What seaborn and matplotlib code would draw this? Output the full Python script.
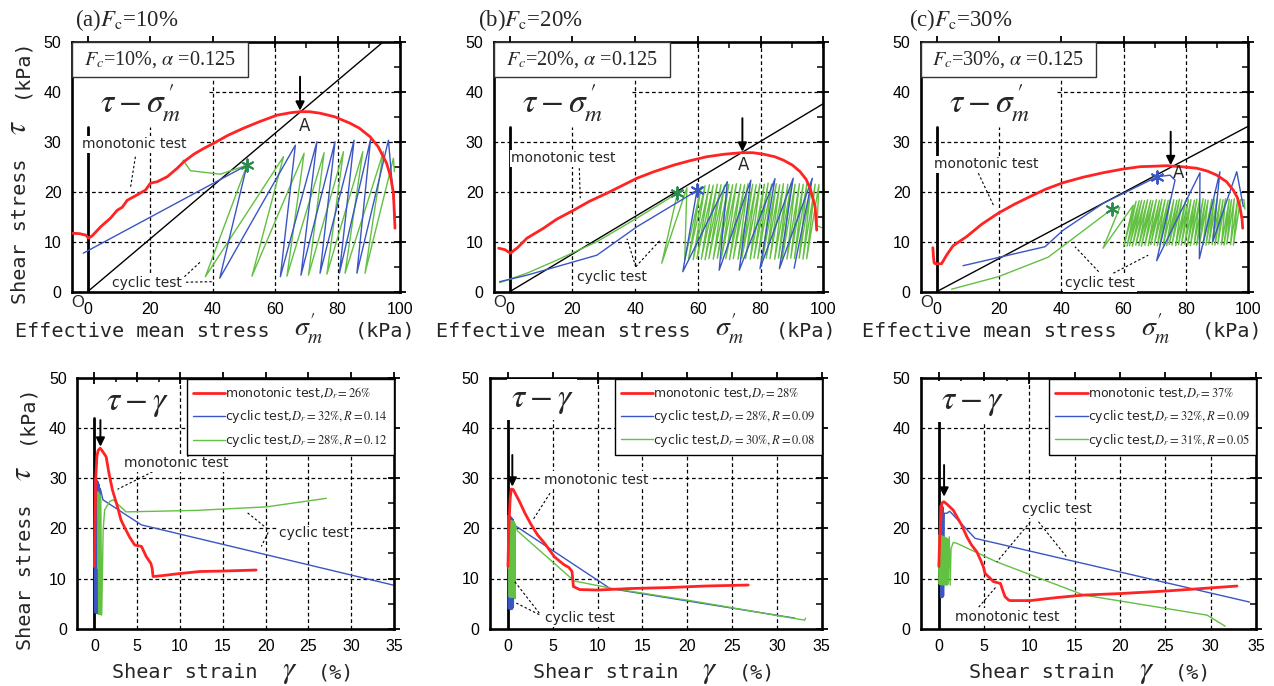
import numpy as np
import matplotlib
matplotlib.use("Agg")
import matplotlib.pyplot as plt
import matplotlib.transforms as mtransforms
from matplotlib.patches import Rectangle
import seaborn as sns

sns.set_theme(style="white")
plt.rcParams["font.family"] = ["DejaVu Sans"]
plt.rcParams["mathtext.fontset"] = "stix"

RED = "#ff2323"
BLUE = "#3a55c4"
GREEN = "#62c042"
STAR_GREEN = "#2c8a50"

# ---------------- stress paths (tau vs sigma_m') ----------------
fc_values = ["10", "20", "30"]
panel_tags = ["a", "b", "c"]
csl_slope = [0.528, 0.376, 0.331]

# Fc = 10 %
mono_a_p = [-4.8, -2.5, -0.5, 0.3, 1.5, 4.2, 7.3, 9.5, 11.1, 12.7, 14.8, 16.5, 18.5, 20.1, 22.3,
            25.5, 28.7, 30.8, 34.0, 37.0, 40.4, 45.0, 49.9, 55.0, 60.6, 65.0, 68.0, 71.0, 74.4,
            79.0, 84.0, 87.0, 90.4, 93.0, 95.7, 97.0, 97.9, 98.4]
mono_a_t = [11.7, 11.6, 11.3, 10.7, 11.2, 13.0, 14.7, 16.3, 16.9, 18.3, 19.0, 19.6, 20.3, 21.7, 22.0,
            23.0, 24.7, 26.0, 27.5, 28.6, 29.7, 31.3, 32.7, 34.0, 35.3, 35.8, 36.0, 36.0, 35.7,
            35.0, 33.7, 32.7, 31.0, 29.0, 25.7, 23.0, 19.7, 12.7]
cyc1_a_p = [-1.4, 51.0, 42.3, 66.5, 61.7, 73.4, 68.3, 79.2, 74.4, 85.3, 80.6, 90.6, 86.2, 96.3, 98.4]
cyc1_a_t = [7.7, 25.3, 2.7, 29.3, 3.0, 30.0, 3.3, 30.0, 3.7, 30.3, 3.7, 30.5, 3.7, 30.3, 15.0]
cyc2_a_p = [30.6, 32.9, 42.5, 51.0, 37.7, 62.7, 52.6, 69.3, 63.8, 75.7, 70.7, 81.9, 76.6, 88.1,
            82.4, 94.7, 88.8, 97.9, 98.2]
cyc2_a_t = [26.3, 24.2, 23.5, 25.3, 3.0, 27.0, 3.1, 27.7, 3.1, 27.8, 3.3, 28.0, 3.5, 28.0,
            3.7, 28.0, 3.7, 26.7, 24.0]

# Fc = 20 %
mono_b_p = [-3.5, -1.5, 0.2, 2.5, 5.5, 10.8, 15.0, 20.4, 25.5, 31.0, 35.8, 40.6, 46.0, 52.2, 57.5,
            62.9, 68.5, 74.0, 77.5, 80.9, 84.5, 87.3, 90.2, 92.6, 94.5, 95.8, 97.4, 97.9]
mono_b_t = [8.7, 8.4, 7.7, 8.8, 10.7, 12.7, 14.5, 16.3, 18.1, 19.7, 21.2, 22.7, 24.0, 25.3, 26.2,
            27.0, 27.5, 27.8, 27.8, 27.5, 27.0, 26.3, 25.3, 24.0, 22.5, 20.7, 17.0, 12.3]
cyc1_b_p = [-3.2, 5.5, 27.8, 40.6, 59.7, 55.2, 69.4, 66.8, 76.9, 73.2, 84.6, 79.8, 90.4, 86.0,
            96.5, 90.7]
cyc1_b_t = [2.0, 3.3, 7.3, 13.0, 20.2, 4.0, 22.0, 4.3, 22.3, 4.3, 22.6, 4.6, 22.7, 4.6, 22.7, 4.7]
cyc2_b_head_p = [-3.2, 5.5, 15.0, 27.8, 40.0, 53.5, 48.5, 56.5]
cyc2_b_head_t = [1.8, 3.7, 6.3, 10.0, 14.5, 19.7, 5.7, 20.8]
cyc2_b_lo_p = [55.8, 57.0, 58.5, 59.7, 61.1, 62.3, 63.5, 64.9, 66.2, 67.4, 68.9, 70.1, 71.3, 72.8,
               74.0, 75.2, 76.7, 77.9, 79.1, 80.6, 81.8, 83.0, 84.5, 85.7, 86.9, 88.4, 89.6, 90.8,
               92.3, 93.5, 94.7]
cyc2_b_lo_t = [6.3, 6.5, 6.4, 6.6, 6.5, 6.4, 6.6, 6.5, 6.7, 6.5, 6.6, 6.4, 6.6, 6.5, 6.7, 6.6,
               6.5, 6.7, 6.6, 6.5, 6.7, 6.6, 6.5, 6.7, 6.6, 6.5, 6.7, 6.6, 6.7, 6.5, 6.6]
cyc2_b_hi_p = [61.1, 62.3, 63.7, 64.9, 66.2, 67.4, 68.5, 69.9, 71.1, 72.3, 73.7, 74.9, 76.0, 77.5,
               78.6, 79.8, 81.2, 82.4, 83.5, 85.0, 86.1, 87.3, 88.7, 89.8, 91.0, 92.4, 93.6, 94.8,
               96.2, 97.4, 98.6]
cyc2_b_hi_t = [21.0, 21.2, 21.4, 21.3, 21.5, 21.4, 21.3, 21.5, 21.4, 21.6, 21.5, 21.4, 21.6, 21.5,
               21.4, 21.6, 21.5, 21.7, 21.5, 21.6, 21.4, 21.6, 21.5, 21.7, 21.5, 21.6, 21.5, 21.7,
               21.6, 21.5, 21.4]
cyc2_b_tail_p = [98.0, 99.5]
cyc2_b_tail_t = [13.2, 12.8]

# Fc = 30 %
mono_c_p = [-1.2, -1.0, -0.8, -0.5, 1.6, 3.2, 5.3, 9.6, 14.5, 19.8, 25.0, 29.9, 35.0, 40.6, 47.0,
            53.5, 59.5, 65.2, 70.0, 73.8, 78.5, 83.4, 87.0, 89.9, 93.0, 95.2, 96.5, 97.3, 98.0, 98.2]
mono_c_t = [8.8, 7.0, 5.8, 5.6, 5.6, 7.3, 9.2, 11.0, 13.5, 15.7, 17.5, 19.0, 20.5, 21.8, 22.9,
            23.8, 24.5, 25.0, 25.1, 25.2, 25.0, 24.7, 24.1, 23.3, 22.0, 20.3, 18.8, 17.0, 14.5, 12.7]
cyc1_c_p = [8.5, 34.8, 40.6, 53.5, 70.8, 74.9, 76.5, 70.6, 84.5, 84.3, 90.9, 88.6, 96.3, 98.4]
cyc1_c_t = [5.2, 9.0, 12.3, 17.7, 23.0, 23.3, 22.3, 6.2, 23.8, 6.6, 24.0, 10.0, 24.0, 17.0]
cyc2_c_head_p = [4.8, 19.8, 35.8, 56.2, 58.8, 53.4, 63.1]
cyc2_c_head_t = [0.5, 3.0, 6.9, 16.5, 16.9, 8.7, 17.3]
cyc2_c_lo_p = [60.0, 61.1, 61.9, 62.8, 63.9, 64.9, 65.7, 66.8, 67.9, 68.7, 69.8, 70.8, 71.6, 72.7,
               73.8, 74.6, 75.5, 76.7, 77.6, 78.5, 79.6, 80.5, 81.4, 82.6, 83.4, 84.3, 85.5, 86.4,
               87.3, 88.4, 89.3, 90.2, 91.4, 92.2, 93.1, 94.3, 95.2]
cyc2_c_lo_t = [9.0, 9.1, 9.2, 9.1, 9.3, 9.2, 9.1, 9.3, 9.2, 9.4, 9.3, 9.2, 9.4, 9.3, 9.2, 9.4,
               9.3, 9.2, 9.4, 9.3, 9.5, 9.3, 9.2, 9.4, 9.3, 9.5, 9.4, 9.3, 9.5, 9.4, 9.3, 9.5,
               9.4, 9.3, 9.5, 9.4, 9.3]
cyc2_c_hi_p = [64.0, 65.0, 65.8, 66.7, 67.7, 68.7, 69.4, 70.5, 71.5, 72.3, 73.3, 74.3, 75.0, 76.1,
               77.1, 77.9, 78.7, 79.9, 80.8, 81.6, 82.7, 83.5, 84.4, 85.5, 86.3, 87.1, 88.3, 89.1,
               90.0, 91.0, 91.9, 92.7, 93.9, 94.6, 95.5, 96.6, 97.5]
cyc2_c_hi_t = [18.1, 18.2, 18.3, 18.2, 18.4, 18.3, 18.2, 18.4, 18.3, 18.5, 18.4, 18.3, 18.5, 18.4,
               18.3, 18.5, 18.4, 18.3, 18.5, 18.4, 18.3, 18.5, 18.4, 18.6, 18.4, 18.3, 18.5, 18.4,
               18.6, 18.5, 18.4, 18.6, 18.5, 18.4, 18.6, 18.5, 18.4]
cyc2_c_tail_p = [98.6, 98.9]
cyc2_c_tail_t = [18.4, 16.5]

star_green_pts = [(51.0, 25.3), (53.5, 19.7), (56.2, 16.5)]
star_blue_pts = [None, (59.7, 20.3), (70.8, 23.0)]

# ---------------- stress-strain (tau vs gamma) ----------------
mono_a_g = [0.0, 0.05, 0.15, 0.3, 0.45, 0.67, 0.9, 1.37, 1.7, 2.1, 2.7, 3.1, 3.5, 4.1, 4.7, 5.5,
            6.05, 6.6, 6.75, 6.85, 8.0, 9.95, 12.3, 15.0, 18.9]
mono_a_s = [12.4, 20.0, 30.0, 34.5, 35.6, 36.0, 35.5, 34.3, 31.0, 27.7, 24.3, 21.7, 20.3, 18.3,
            16.7, 16.4, 14.4, 13.0, 12.0, 10.4, 10.6, 11.0, 11.4, 11.5, 11.7]
cyc1_a_g = [0.0, 0.04, 0.07, 0.15, 0.19, 0.28, 0.32, 0.42, 0.46, 0.56, 0.6, 0.68, 1.0, 5.5, 34.9]
cyc1_a_s = [12.0, 29.8, 3.2, 29.9, 3.1, 29.6, 3.0, 29.3, 3.0, 28.8, 2.9, 28.0, 25.7, 20.7, 8.7]
cyc2_a_g = [0.38, 0.42, 0.5, 0.58, 0.66, 0.74, 0.85, 1.02, 1.2, 1.8, 2.2, 3.7, 12.0, 20.1, 27.1]
cyc2_a_s = [12.0, 27.3, 2.9, 27.0, 2.8, 26.6, 2.7, 19.7, 23.7, 25.4, 25.7, 23.3, 23.6, 24.3, 26.0]

mono_b_g = [0.0, 0.1, 0.25, 0.38, 0.6, 1.3, 1.9, 2.6, 3.3, 4.1, 4.7, 5.2, 5.8, 6.3, 6.8, 7.15,
            7.3, 8.0, 10.0, 13.6, 18.0, 22.0, 26.8]
mono_b_s = [12.4, 20.0, 26.0, 27.8, 27.7, 25.3, 23.0, 20.7, 18.7, 17.0, 15.5, 14.3, 13.4, 12.7,
            12.2, 11.4, 8.4, 7.8, 7.7, 8.0, 8.2, 8.5, 8.7]
cyc1_b_g = [0.0, 0.03, 0.06, 0.11, 0.14, 0.2, 0.23, 0.29, 0.32, 0.38, 0.41, 0.47, 0.5, 0.56, 0.6,
            0.74, 11.4, 32.0]
cyc1_b_s = [12.0, 22.6, 4.0, 22.5, 3.9, 22.4, 4.1, 22.3, 3.8, 22.2, 4.0, 22.0, 3.9, 21.8, 4.2,
            20.6, 8.0, 2.1]
cyc2_b_g = [0.10, 0.12, 0.15, 0.17, 0.20, 0.23, 0.25, 0.28, 0.31, 0.33, 0.36, 0.39, 0.41, 0.44,
            0.47, 0.49, 0.52, 0.55, 0.57, 0.60, 0.63, 0.65, 0.68, 0.71, 0.73, 0.76, 0.79, 0.82,
            1.05, 7.4, 11.4, 21.0, 33.1, 33.2]
cyc2_b_s = [12.0, 21.6, 6.4, 21.5, 6.3, 21.6, 6.5, 21.4, 6.3, 21.5, 6.4, 21.3, 6.2, 21.5, 6.4,
            21.4, 6.3, 21.3, 6.5, 21.2, 6.3, 21.4, 6.2, 21.1, 6.4, 21.0, 6.0, 20.5, 19.5, 9.5, 8.1,
            5.4, 1.7, 2.1]

mono_c_g = [0.0, 0.1, 0.33, 0.55, 0.9, 1.6, 2.0, 2.5, 3.1, 3.6, 4.2, 4.6, 4.9, 5.1, 5.7, 6.0,
            6.8, 7.1, 7.3, 7.7, 7.9, 10.1, 13.0, 16.0, 20.0, 25.0, 29.0, 32.9]
mono_c_s = [12.4, 18.0, 25.0, 25.3, 24.8, 23.6, 22.3, 20.7, 18.3, 16.7, 15.3, 13.7, 12.4, 11.0,
            10.0, 9.4, 9.0, 7.4, 6.4, 5.7, 5.6, 5.6, 6.2, 6.7, 7.0, 7.5, 8.0, 8.5]
cyc1_c_g = [0.12, 0.16, 0.2, 0.26, 0.3, 0.37, 0.41, 0.48, 0.52, 0.6, 0.9, 1.2, 4.0, 34.3]
cyc1_c_s = [12.0, 24.5, 6.3, 24.8, 6.2, 24.6, 6.2, 24.2, 6.5, 23.0, 23.0, 23.4, 18.0, 5.3]
cyc2_c_g = [0.0, 0.02, 0.05, 0.07, 0.10, 0.13, 0.15, 0.18, 0.21, 0.23, 0.26, 0.29, 0.31, 0.34,
            0.37, 0.39, 0.42, 0.45, 0.47, 0.50, 0.53, 0.55, 0.58, 0.61, 0.63, 0.66, 0.69, 0.71,
            0.74, 0.77, 0.79, 0.82, 0.85, 0.87, 0.90, 0.93, 0.95, 0.98, 1.0, 1.15, 1.25, 1.35,
            1.6, 2.0, 6.4, 16.0, 29.6, 31.6]
cyc2_c_s = [12.0, 18.6, 8.9, 18.7, 8.8, 18.6, 9.0, 18.5, 8.8, 18.6, 8.9, 18.4, 8.7, 18.5, 8.9,
            18.3, 8.8, 18.4, 8.7, 18.2, 8.9, 18.3, 8.8, 18.1, 8.7, 18.2, 8.9, 18.0, 8.8, 18.1, 8.7,
            17.9, 8.8, 18.0, 8.7, 17.8, 8.9, 17.9, 8.8, 18.3, 8.7, 16.0, 17.2, 17.0, 13.3, 6.7,
            2.7, 0.5]

legend_labels = [
    [r"monotonic test,$D_{r}\mathrm{=26\%}$",
     r"cyclic test,$D_{r}\mathrm{=32\%,}R\mathrm{=0.14}$",
     r"cyclic test,$D_{r}\mathrm{=28\%,}R\mathrm{=0.12}$"],
    [r"monotonic test,$D_{r}\mathrm{=28\%}$",
     r"cyclic test,$D_{r}\mathrm{=28\%,}R\mathrm{=0.09}$",
     r"cyclic test,$D_{r}\mathrm{=30\%,}R\mathrm{=0.08}$"],
    [r"monotonic test,$D_{r}\mathrm{=37\%}$",
     r"cyclic test,$D_{r}\mathrm{=32\%,}R\mathrm{=0.09}$",
     r"cyclic test,$D_{r}\mathrm{=31\%,}R\mathrm{=0.05}$"],
]


def interleave(lo_x, lo_y, hi_x, hi_y):
    xs, ys = [], []
    for a, b, c, d in zip(lo_x, lo_y, hi_x, hi_y):
        xs += [a, c]
        ys += [b, d]
    return xs, ys


def joined(head, lo_x, lo_y, hi_x, hi_y, tail):
    mx, my = interleave(lo_x, lo_y, hi_x, hi_y)
    return head[0] + mx + tail[0], head[1] + my + tail[1]


top_paths = [
    dict(mono=(mono_a_p, mono_a_t), cyc1=(cyc1_a_p, cyc1_a_t), cyc2=(cyc2_a_p, cyc2_a_t)),
    dict(mono=(mono_b_p, mono_b_t), cyc1=(cyc1_b_p, cyc1_b_t),
         cyc2=joined((cyc2_b_head_p, cyc2_b_head_t), cyc2_b_lo_p, cyc2_b_lo_t,
                     cyc2_b_hi_p, cyc2_b_hi_t, (cyc2_b_tail_p, cyc2_b_tail_t))),
    dict(mono=(mono_c_p, mono_c_t), cyc1=(cyc1_c_p, cyc1_c_t),
         cyc2=joined((cyc2_c_head_p, cyc2_c_head_t), cyc2_c_lo_p, cyc2_c_lo_t,
                     cyc2_c_hi_p, cyc2_c_hi_t, (cyc2_c_tail_p, cyc2_c_tail_t))),
]
bottom_paths = [
    dict(mono=(mono_a_g, mono_a_s), cyc1=(cyc1_a_g, cyc1_a_s), cyc2=(cyc2_a_g, cyc2_a_s)),
    dict(mono=(mono_b_g, mono_b_s), cyc1=(cyc1_b_g, cyc1_b_s), cyc2=(cyc2_b_g, cyc2_b_s)),
    dict(mono=(mono_c_g, mono_c_s), cyc1=(cyc1_c_g, cyc1_c_s), cyc2=(cyc2_c_g, cyc2_c_s)),
]

# ---------------- figure ----------------
W, H = 1274, 686
fig = plt.figure(figsize=(W / 100, H / 100), dpi=100)
fig.patch.set_facecolor("white")


def add_ax(left, top, right, bottom):
    return fig.add_axes([left / W, 1 - bottom / H, (right - left) / W, (bottom - top) / H])


top_axes = [add_ax(72, 41.7, 400, 291.7), add_ax(494, 41.7, 823.3, 291.7),
            add_ax(921, 41.7, 1248.3, 291.7)]
bot_axes = [add_ax(77.3, 378, 394, 628.7), add_ax(490, 377.7, 821.7, 628.7),
            add_ax(920.7, 377.7, 1256, 628.7)]

DASH = (0, (3.0, 2.2))
LEAD = (0, (2.2, 2.0))
LABEL_BOX = dict(facecolor="white", edgecolor="none", pad=1.2)
MONO = "DejaVu Sans Mono"
MONO_SIZE = 14.5
CHAR_W = 0.602 * MONO_SIZE  # advance of one monospaced character, in points


def trace(ax, xy, color, lw, z):
    sns.lineplot(x=np.asarray(xy[0], float), y=np.asarray(xy[1], float), sort=False,
                 estimator=None, color=color, lw=lw, ax=ax, zorder=z, legend=False)
    return ax.lines[-1]


def frame(ax, xlim, xmajor, xminor):
    ax.set_xlim(*xlim)
    ax.set_ylim(0, 50)
    ax.set_xticks(xmajor)
    ax.set_xticks(xminor, minor=True)
    ax.set_yticks(range(0, 51, 10))
    ax.set_yticks(range(5, 50, 10), minor=True)
    ax.tick_params(which="major", direction="inout", length=9, width=1.3, top=True, right=True,
                   labelsize=11.5, pad=3, colors="black")
    ax.tick_params(which="minor", direction="in", length=4.5, width=1.1, top=True, right=True,
                   colors="black")
    for lab in ax.get_xticklabels() + ax.get_yticklabels():
        lab.set_fontfamily("Liberation Sans")
    for s in ax.spines.values():
        s.set_visible(True)
        s.set_linewidth(1.9)
        s.set_color("black")
    ax.set_xlabel("")
    ax.set_ylabel("")


def grid(ax, vlines, hlines):
    for x, y0, y1 in vlines:
        ax.plot([x, x], [y0, y1], color="black", lw=0.9, ls=DASH, zorder=1)
    for y, x0, x1 in hlines:
        ax.plot([x0, x1], [y, y], color="black", lw=0.9, ls=DASH, zorder=1)


def leaders(ax, segs):
    for (x0, y0), (x1, y1) in segs:
        ax.plot([x0, x1], [y0, y1], color="black", lw=0.8, ls=LEAD, zorder=4)


def arrow(ax, x, y0, y1):
    ax.annotate("", xy=(x, y1), xytext=(x, y0),
                arrowprops=dict(arrowstyle="-|>", color="black", lw=1.4, mutation_scale=13,
                                shrinkA=0, shrinkB=0), zorder=8)


def axis_title(ax, head, symbol, slot, tail, x, y, vertical=False, sym_size=20):
    """Monospaced axis title in three pieces: words, a larger italic symbol, unit."""
    gap = 2
    n = len(head) + gap + slot + gap + len(tail)
    start = -n / 2.0 * CHAR_W
    pieces = [(head, start, MONO_SIZE, MONO),
              (symbol, start + (len(head) + gap) * CHAR_W, sym_size, None),
              (tail, start + (len(head) + 2 * gap + slot) * CHAR_W, MONO_SIZE, MONO)]
    rot = 90 if vertical else 0
    for s, shift, size, fam in pieces:
        off = mtransforms.offset_copy(ax.transAxes, fig=fig,
                                      x=0 if vertical else shift, y=shift if vertical else 0,
                                      units="points")
        kw = dict(fontfamily=fam) if fam else {}
        ax.text(x, y, s, transform=off, fontsize=size, ha="left", va="baseline",
                rotation=rot, rotation_mode="anchor", clip_on=False, **kw)


# ---- top row ----
top_grid_v = [[(20, 0, 33), (40, 0, 43), (60, 0, 50), (80, 0, 50)]] * 3
top_grid_h = [[(10, -5, 100), (20, -5, 100), (30, 36, 100), (40, 38.7, 100)],
              [(10, -5, 100), (20, -5, 100), (30, -5, 100), (40, 39, 100)],
              [(10, -5, 100), (20, -5, 100), (30, -5, 100), (40, 38.5, 100)]]
mono_lbl_top = [(14.8, 29.5), (17.2, 26.7), (16.0, 25.5)]
mono_lead_top = [[((15.3, 27.0), (13.7, 20.7))],
                 [((22.2, 24.7), (22.5, 18.7))],
                 [((13.4, 23.7), (18.4, 17.1))]]
cyc_lbl_top = [(19.1, 1.8), (32.6, 2.9), (52.4, 1.7)]
cyc_lead_top = [[((31.5, 1.9), (40.0, 2.0)), ((31.0, 3.0), (36.0, 5.9))],
                [((40.2, 5.0), (37.4, 10.6)), ((40.2, 5.0), (48.0, 10.3))],
                [((52.0, 4.0), (44.4, 9.0)), ((56.7, 3.7), (67.9, 7.3))]]
A_lbl = [(69.4, 33.2), (74.5, 25.3), (77.6, 23.7)]
A_arrow = [(68.0, 43.0, 36.2), (74.2, 34.7, 28.0), (75.1, 32.0, 25.3)]
title_x = [0.01, -0.048, -0.036]
xlab_top_x = [0.436, 0.432, 0.431]

for i, ax in enumerate(top_axes):
    d = top_paths[i]
    frame(ax, (-5, 100), range(0, 101, 20), range(10, 100, 20))
    grid(ax, top_grid_v[i], top_grid_h[i])
    ax.add_patch(Rectangle((-5, 33), 43.5, 10, facecolor="white", edgecolor="none", zorder=1.5))
    ax.axline((0, 0), slope=csl_slope[i], color="black", lw=1.0, zorder=2)
    ax.plot([0, 0], [0, 33], color="black", lw=2.0, zorder=2.2)
    trace(ax, d["cyc2"], GREEN, 1.0, 2.4)
    trace(ax, d["cyc1"], BLUE, 1.0, 2.5)
    trace(ax, d["mono"], RED, 2.0, 3)
    gx, gy = star_green_pts[i]
    sns.scatterplot(x=[gx], y=[gy], marker=(6, 2, 0), s=80, color=STAR_GREEN,
                    edgecolor=STAR_GREEN, linewidth=1.4, ax=ax, zorder=4, legend=False)
    if star_blue_pts[i] is not None:
        bx, by = star_blue_pts[i]
        sns.scatterplot(x=[bx], y=[by], marker=(6, 2, 0), s=80, color=BLUE,
                        edgecolor=BLUE, linewidth=1.4, ax=ax, zorder=4, legend=False)
    # box with Fc and alpha
    ax.add_patch(Rectangle((-5, 43.0), 56.2, 6.9, facecolor="white", edgecolor="#333333",
                           lw=1.0, zorder=6))
    ax.text(23.0, 46.4, r"$F_{c}$=" + fc_values[i] + r"%, $\alpha$ =0.125",
            fontfamily="Liberation Serif", fontsize=14.5, ha="center", va="center", zorder=7)
    ax.text(17.0, 37.7, r"$\tau - \sigma_{m}^{\,\prime}$", fontsize=24, ha="center",
            va="center", zorder=5)
    ax.text(*mono_lbl_top[i], "monotonic test", fontsize=10, ha="center", va="center",
            bbox=LABEL_BOX, zorder=5)
    leaders(ax, mono_lead_top[i])
    ax.text(*cyc_lbl_top[i], "cyclic test", fontsize=10, ha="center", va="center",
            bbox=LABEL_BOX, zorder=5)
    leaders(ax, cyc_lead_top[i])
    ax.text(*A_lbl[i], "A", fontsize=12, ha="center", va="center", zorder=6)
    arrow(ax, *A_arrow[i])
    ax.text(title_x[i], 1.087, r"(" + panel_tags[i] + r")$F_{\mathrm{c}}$=" + fc_values[i] + "%",
            transform=ax.transAxes, fontfamily="Liberation Serif", fontsize=16.5,
            ha="left", va="center")
    ax.text(-3.3, -2.1, "O", fontsize=12, fontfamily="Liberation Sans", ha="center",
            va="center", clip_on=False)
    axis_title(ax, "Effective mean stress", r"$\sigma_{m}^{\prime}$", 3, "(kPa)",
               xlab_top_x[i], -0.181)

axis_title(top_axes[0], "Shear stress", r"$\tau$", 1, "(kPa)", -0.140, 0.483,
           vertical=True, sym_size=22)

# ---- bottom row ----
bot_grid_v = [[(5, 0, 34), (10, 0, 50), (15, 0, 50), (20, 0, 50), (25, 0, 50), (30, 0, 50)],
              [(5, 0, 42), (10, 0, 50), (15, 0, 50), (20, 0, 50), (25, 0, 50), (30, 0, 50)],
              [(5, 0, 44), (10, 0, 50), (15, 0, 50), (20, 0, 50), (25, 0, 50), (30, 0, 50)]]
bot_grid_h = [[(10, -2, 35), (20, -2, 35), (30, -2, 35), (40, -2, 12)]] * 3
tg_pos = [(5.0, 45.2), (3.8, 45.6), (3.7, 45.2)]
mono_lbl_bot = [(9.6, 33.0), (9.8, 29.6), (7.5, 2.4)]
mono_lead_bot = [[((6.8, 31.3), (2.7, 27.8))],
                 [((4.7, 27.0), (2.8, 21.7))],
                 [((4.4, 4.3), (6.3, 8.3))]]
cyc_lbl_bot = [(25.7, 19.0), (8.0, 2.1), (13.0, 23.8)]
cyc_lead_bot = [[((17.9, 23.1), (20.3, 19.8)), ((20.3, 19.2), (19.5, 16.4))],
                [((3.5, 3.1), (0.75, 9.4)), ((3.5, 2.8), (0.94, 5.1))],
                [((10.1, 21.3), (6.4, 13.3)), ((11.0, 21.3), (14.1, 14.3))]]
bot_arrow = [(0.7, 41.6, 36.3), (0.49, 34.6, 28.3), (0.58, 32.6, 26.3)]
xlab_bot_x = [0.492, 0.494, 0.505]

for i, ax in enumerate(bot_axes):
    d = bottom_paths[i]
    frame(ax, (-2, 35), range(0, 36, 5), [2.5 + 5 * k for k in range(7)])
    grid(ax, bot_grid_v[i], bot_grid_h[i])
    ax.plot([0, 0], [0, 42], color="black", lw=2.0, zorder=2.2)
    l_cyc1 = trace(ax, d["cyc1"], BLUE, 1.0, 2.4)
    l_cyc2 = trace(ax, d["cyc2"], GREEN, 1.0, 2.5)
    l_mono = trace(ax, d["mono"], RED, 2.0, 3)
    ax.text(*tg_pos[i], r"$\tau - \gamma$", fontsize=24, ha="center", va="center",
            bbox=dict(facecolor="white", edgecolor="none", pad=3), zorder=5)
    ax.text(*mono_lbl_bot[i], "monotonic test", fontsize=10, ha="center", va="center",
            bbox=LABEL_BOX, zorder=5)
    leaders(ax, mono_lead_bot[i])
    ax.text(*cyc_lbl_bot[i], "cyclic test", fontsize=10, ha="center", va="center",
            bbox=LABEL_BOX, zorder=5)
    leaders(ax, cyc_lead_bot[i])
    arrow(ax, *bot_arrow[i])
    leg = ax.legend(handles=[l_mono, l_cyc1, l_cyc2], labels=legend_labels[i],
                    loc="upper right", bbox_to_anchor=(1.0, 0.995), borderaxespad=0.0,
                    frameon=True, fancybox=False, framealpha=1, edgecolor="black",
                    fontsize=9, handlelength=2.6, handletextpad=0.0, borderpad=0.5,
                    labelspacing=0.55)
    leg.get_frame().set_linewidth(1.0)
    leg.set_zorder(10)
    axis_title(ax, "Shear strain", r"$\gamma$", 1, "(%)", xlab_bot_x[i], -0.197, sym_size=22)

axis_title(bot_axes[0], "Shear stress", r"$\tau$", 1, "(kPa)", -0.146, 0.446,
           vertical=True, sym_size=22)

fig.savefig("out.png", dpi=100, facecolor="white")
